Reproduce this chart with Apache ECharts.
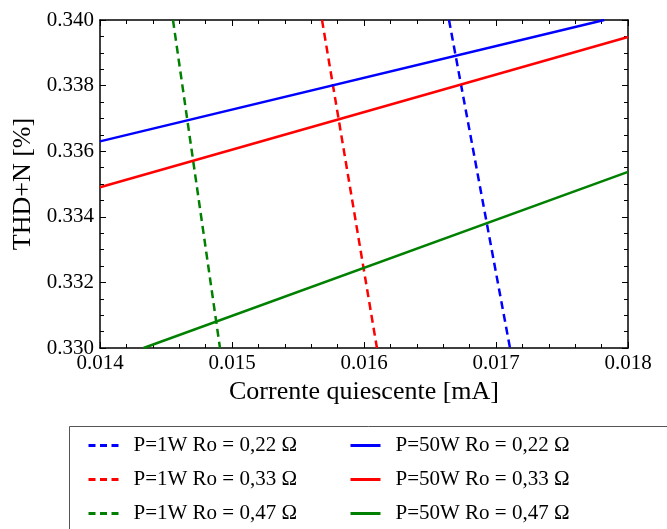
<!DOCTYPE html>
<html>
<head>
<meta charset="utf-8">
<script src="https://cdn.jsdelivr.net/npm/echarts@6/dist/echarts.min.js"></script>
<style>
  html, body { margin: 0; padding: 0; background: #fff; }
  #chart { width: 667px; height: 529px; }
</style>
</head>
<body>
<div id="chart"></div>
<script>
// x ticks / y ticks
const xTicks = [0.014, 0.015, 0.016, 0.017, 0.018]
const yTicks = [0.330, 0.332, 0.334, 0.336, 0.338, 0.340]

// P=1W curves (dashed), points [current, thd]
const p1_022 = [[0.016644, 0.340], [0.017106, 0.330]]
const p1_033 = [[0.015682, 0.340], [0.016098, 0.330]]
const p1_047 = [[0.014553, 0.340], [0.014909, 0.330]]

// P=50W curves (solid)
const p50_022 = [[0.014, 0.3363], [0.01782, 0.340]]
const p50_033 = [[0.014, 0.3349], [0.018, 0.33948]]
const p50_047 = [[0.01433, 0.330], [0.018, 0.33537]]

const names1 = ['P=1W Ro = 0,22 Ω', 'P=1W Ro = 0,33 Ω', 'P=1W Ro = 0,47 Ω']
const names50 = ['P=50W Ro = 0,22 Ω', 'P=50W Ro = 0,33 Ω', 'P=50W Ro = 0,47 Ω']
const colors = ['#0000ff', '#ff0000', '#008000']

const font = 'Liberation Serif'
const chart = echarts.init(document.getElementById('chart'), null, {renderer: 'canvas'})

function mkSeries(name, data, color, dashed) {
  return {
    name: name,
    type: 'line',
    data: data,
    symbol: 'none',
    animation: false,
    lineStyle: { color: color, width: 2.5, type: dashed ? [8, 5] : 'solid' },
    itemStyle: { color: color }
  }
}

const axisCommon = {
  type: 'value',
  axisLine: { show: true, lineStyle: { color: '#000', width: 1.5 } },
  axisTick: { show: true, inside: true, length: 6, lineStyle: { color: '#000', width: 1 } },
  minorTick: { show: true, splitNumber: 5, length: 4, lineStyle: { color: '#000', width: 1 } },
  splitLine: { show: false },
  minorSplitLine: { show: false }
}

const legendCommon = {
  orient: 'vertical',
  height: 120,
  itemWidth: 30,
  itemHeight: 14,
  itemGap: 13,
  itemStyle: { opacity: 0 },
  textStyle: { fontFamily: font, fontSize: 21, color: '#000', padding: [0, 0, 0, 10] }
}

chart.setOption({
  backgroundColor: '#fff',
  grid: { left: 100, right: 39, top: 20, bottom: 181 },
  xAxis: [
    Object.assign({}, axisCommon, {
      min: xTicks[0], max: xTicks[xTicks.length - 1], interval: 0.001,
      name: 'Corrente quiescente [mA]',
      nameLocation: 'middle',
      nameGap: 29,
      nameTextStyle: { fontFamily: font, fontSize: 26, color: '#000' },
      axisLabel: { fontFamily: font, fontSize: 21, color: '#000', margin: 5,
        formatter: v => v.toFixed(3) }
    }),
    Object.assign({}, axisCommon, {
      position: 'top',
      min: xTicks[0], max: xTicks[xTicks.length - 1], interval: 0.001,
      axisLabel: { show: false }
    })
  ],
  yAxis: [
    Object.assign({}, axisCommon, {
      min: yTicks[0], max: yTicks[yTicks.length - 1], interval: 0.002,
      minorTick: Object.assign({}, axisCommon.minorTick, { splitNumber: 4 }),
      name: 'THD+N [%]',
      nameLocation: 'middle',
      nameGap: 62,
      nameTextStyle: { fontFamily: font, fontSize: 26, color: '#000' },
      axisLabel: { fontFamily: font, fontSize: 21, color: '#000', margin: 6,
        formatter: v => v.toFixed(3) }
    }),
    Object.assign({}, axisCommon, {
      position: 'right',
      min: yTicks[0], max: yTicks[yTicks.length - 1], interval: 0.002,
      minorTick: Object.assign({}, axisCommon.minorTick, { splitNumber: 4 }),
      axisLabel: { show: false }
    })
  ],
  legend: [
    Object.assign({}, legendCommon, { left: 82, top: 430, data: names1,
      lineStyle: { width: 3, type: [7, 4.5] } }),
    Object.assign({}, legendCommon, { left: 344, top: 430, data: names50,
      lineStyle: { width: 3 } })
  ],
  graphic: [{
    type: 'rect',
    shape: { x: 69.5, y: 426.5, width: 640, height: 140 },
    style: { fill: 'none', stroke: '#555', lineWidth: 1 },
    z: -1
  }],
  series: [
    mkSeries(names1[0], p1_022, colors[0], true),
    mkSeries(names1[1], p1_033, colors[1], true),
    mkSeries(names1[2], p1_047, colors[2], true),
    mkSeries(names50[0], p50_022, colors[0], false),
    mkSeries(names50[1], p50_033, colors[1], false),
    mkSeries(names50[2], p50_047, colors[2], false)
  ]
})
</script>
</body>
</html>
